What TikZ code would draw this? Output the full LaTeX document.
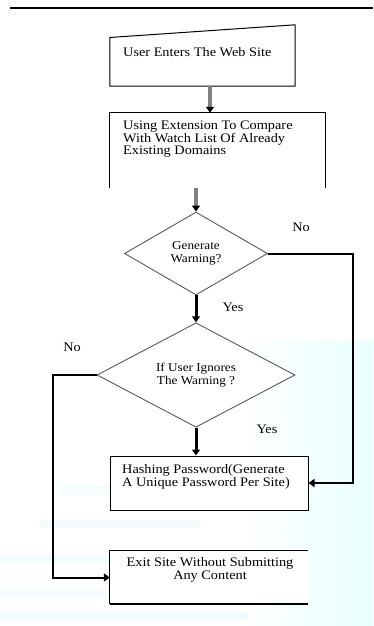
\documentclass[tikz,border=0pt]{standalone}
\usepackage{fontspec}
\setmainfont{Liberation Serif}[FakeStretch=1.1]
\usetikzlibrary{shapes.geometric,arrows.meta}

\begin{document}
\begin{tikzpicture}[x=1pt, y=-1pt]

\tikzstyle{every node} = [inner sep=0pt, font=\fontsize{13}{13}\selectfont]
\tikzstyle{box} = [rectangle, minimum width=198, minimum height=54]
\tikzstyle{dec} = [diamond, draw=black!65, line width=0.9pt, align=center, font=\fontsize{12}{13.5}\selectfont]
\tikzstyle{txt} = [anchor=north west, align=left]
\tikzstyle{gflow} = [draw=gray, line width=4pt, -{Triangle[length=6pt,width=8pt,black]}]
\tikzstyle{flow} = [line width=2pt, -{Triangle[length=6pt,width=8pt]}]

\useasboundingbox (0,0) rectangle (373,626);

\shade[left color=white, right color=cyan!9] (240,340) rectangle (373,626);
\fill[cyan!4] (60,485) rectangle (110,495);
\fill[cyan!4] (40,520) rectangle (200,528);
\fill[cyan!5] (0,555) rectangle (110,563);
\fill[cyan!4] (0,590) rectangle (110,598);
\fill[cyan!5] (0,612) rectangle (250,620);

\draw[line width=2pt] (10,8.5) -- (373,8.5);

\node[box, minimum width=185, minimum height=61] (u) at (202.5,55.5) {};
\node[box, minimum width=215, minimum height=75] (w) at (217.5,150.5) {};
\node[dec, fill=white, minimum width=143, minimum height=83] (g) at (196,253.5) {Generate\\Warning?};
\node[dec, fill=white, minimum width=198, minimum height=80] (i) at (196,375) {If User Ignores\\The Warning ?};
\node[box, draw, fill=white, line width=1pt] (h) at (209,483) {};
\node[box, fill=white, minimum height=53] (e) at (209,577.5) {};

\node[txt] (ut) at (123,47) {User Enters The Web Site};
\node[txt, font=\fontsize{13}{12.5}\selectfont] (wt) at (123,121) {Using Extension To Compare\\With Watch List Of Already\\Existing Domains};
\node[txt] (ht) at (122,464) {Hashing Password(Generate\\A Unique Password Per Site)};
\node[anchor=north, align=center, font=\fontsize{13}{13.5}\selectfont] (et) at (210,557) {Exit Site  Without Submitting\\Any Content};

\node (n1) at (301,227) {No};
\node (y1) at (233,307) {Yes};
\node (n2) at (72,347) {No};
\node (y2) at (267,429) {Yes};

\draw[line width=1pt] (u.south west) -- ([yshift=-12.7pt]u.north west) -- (u.north east) -- (u.south east) -- cycle;
\draw[line width=1pt] (w.south west) -- (w.north west) -- (w.north east) -- (w.south east);
\draw[line width=1pt] (e.north east) -- (e.north west) -- (e.south west);
\draw[line width=2.5pt] (e.south west) -- (e.south east);

\draw[gflow] ([xshift=7.5pt]u.south) -- ([xshift=-7.5pt]w.north);
\draw[gflow] (w.south -| g.north) -- (g.north);
\draw[flow, line width=3pt] (g.south) -- (i.north);
\draw[flow, line width=3pt] (i.south) -- (i.south |- h.north);
\draw[flow] (g.east) -- ++(85,0) |- (h.east);
\draw[flow] (i.west) -- ++(-44,0) |- (e.west);

\end{tikzpicture}
\end{document}
